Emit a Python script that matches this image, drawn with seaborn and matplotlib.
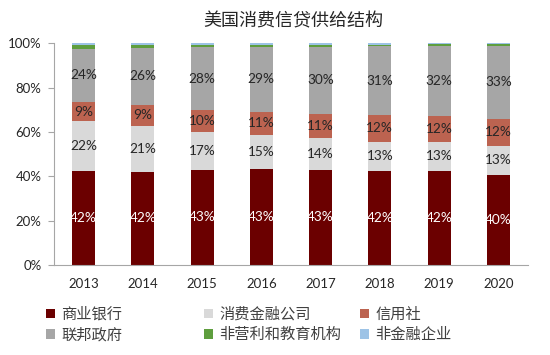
import numpy as np
import matplotlib
matplotlib.use("Agg")
import matplotlib.pyplot as plt
from matplotlib.patches import Patch
import seaborn as sns

# Data (share of US consumer credit by holder, %) #
years = ["2013", "2014", "2015", "2016", "2017", "2018", "2019", "2020"]
banks = [42.4, 42.0, 43.0, 43.2, 42.9, 42.3, 42.4, 40.5]          # 商业银行
consumer_fin = [22.4, 20.9, 16.8, 15.4, 14.4, 13.4, 13.2, 13.3]   # 消费金融公司
credit_unions = [8.8, 9.4, 10.0, 10.6, 10.8, 11.8, 11.7, 12.0]    # 信用社
federal_gov = [23.8, 25.7, 28.4, 29.2, 30.4, 31.2, 31.6, 33.1]    # 联邦政府
nonprofit_edu = [1.8, 1.2, 1.0, 0.9, 0.8, 0.7, 0.6, 0.6]          # 非营利和教育机构
nonfinancial = [0.8, 0.8, 0.8, 0.7, 0.7, 0.6, 0.5, 0.5]           # 非金融企业

labels = ["商业银行", "消费金融公司", "信用社", "联邦政府", "非营利和教育机构", "非金融企业"]
colors = ["#6B0000", "#D9D9D9", "#BC6350", "#A6A6A6", "#5E9E3E", "#9DC3E6"]
series = [banks, consumer_fin, credit_unions, federal_gov, nonprofit_edu, nonfinancial]
shown_labels = 4          # only the first four segments carry value labels
label_colors = ["white", "#262626", "#262626", "#262626"]

sns.set_style("white")
plt.rcParams["font.family"] = ["Lato", "Noto Sans CJK SC", "DejaVu Sans"]

fig = plt.figure(figsize=(5.5, 3.55), dpi=100)
ax = fig.add_axes([0.098, 0.2535, 0.862, 0.6245])

bottom = np.zeros(len(years))
for i, vals in enumerate(series):
    vals = np.array(vals)
    sns.barplot(x=years, y=vals, bottom=bottom, color=colors[i], width=0.39,
                saturation=1, linewidth=0, ax=ax)
    if i < shown_labels:
        for j, v in enumerate(vals):
            ax.text(j, bottom[j] + v / 2, f"{round(v):d}%", ha="center", va="center",
                    fontsize=9.8, color=label_colors[i])
    bottom += vals

ax.set_xlim(-0.5, len(years) - 0.5)
ax.set_ylim(0, 100)
ax.set_yticks(range(0, 101, 20))
ax.set_yticklabels([f"{t}%" for t in range(0, 101, 20)])
ax.set_xlabel("")
ax.set_ylabel("")

# category boundary ticks on the x axis
ax.set_xticks(np.arange(-0.5, len(years), 1.0), minor=True)
ax.tick_params(axis="x", which="major", length=0, pad=9, labelsize=9.5, colors="#262626")
ax.tick_params(axis="x", which="minor", length=4, width=0.8, color="#A6A6A6", direction="out")
ax.tick_params(axis="y", length=4, width=0.8, color="#A6A6A6", pad=5, labelsize=9.5,
               labelcolor="#262626", direction="out", left=True)

sns.despine(ax=ax, top=True, right=True)
for s in ["left", "bottom"]:
    ax.spines[s].set_color("#A6A6A6")
    ax.spines[s].set_linewidth(0.8)

fig.text(0.533, 0.94, "美国消费信贷供给结构", ha="center", va="center", fontsize=13,
         color="#262626", family=["Noto Sans CJK SC"])

# legend: three columns of two entries each
col_x = [0.083, 0.371, 0.655]
for c in range(3):
    idx = [c, c + 3]
    handles = [Patch(facecolor=colors[k], edgecolor="none") for k in idx]
    leg = fig.legend(handles, [labels[k] for k in idx], loc="upper left",
                     bbox_to_anchor=(col_x[c], 0.138), frameon=False,
                     handlelength=0.6, handleheight=0.6, handletextpad=0.4,
                     labelspacing=0.2, borderaxespad=0, borderpad=0,
                     prop={"family": "Noto Sans CJK SC", "size": 11})
    for t in leg.get_texts():
        t.set_color("#404040")

fig.savefig("out.png", dpi=100)
